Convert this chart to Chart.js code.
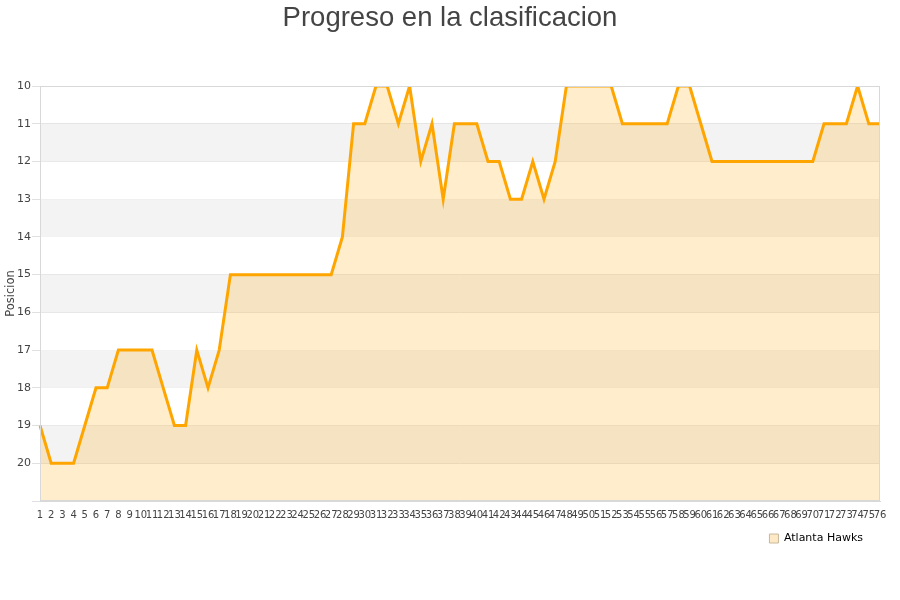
<!DOCTYPE html>
<html>
<head>
<meta charset="utf-8">
<script src="https://cdn.jsdelivr.net/npm/chart.js@4/dist/chart.umd.min.js"></script>
<style>
  body { margin: 0; background: #fff; }
</style>
</head>
<body>
<canvas id="myChart" width="900" height="600"></canvas>
<script>
// jornadas 1..76
const jornadas = [];
for (let j = 1; j <= 76; j++) jornadas.push(String(j));

const posiciones = [
  19, 20, 20, 20, 19, 18, 18, 17, 17, 17,
  17, 18, 19, 19, 17, 18, 17, 15, 15, 15,
  15, 15, 15, 15, 15, 15, 15, 14, 11, 11,
  10, 10, 11, 10, 12, 11, 13, 11, 11, 11,
  12, 12, 13, 13, 12, 13, 12, 10, 10, 10,
  10, 10, 11, 11, 11, 11, 11, 10, 10, 11,
  12, 12, 12, 12, 12, 12, 12, 12, 12, 12,
  11, 11, 11, 10, 11, 11
];

// gray bands [from, to]
const bandas = [[11, 12], [13, 14], [15, 16], [17, 18], [19, 20]];

const bandPlugin = {
  id: 'bands',
  afterLayout(chart) {
    // pull the legend in a bit from the right edge
    chart.legend.right -= 25;
  },
  beforeDatasetsDraw(chart) {
    const { ctx, chartArea, scales } = chart;
    ctx.save();
    ctx.fillStyle = '#f3f3f3';
    bandas.forEach(([a, b]) => {
      const y1 = scales.y.getPixelForValue(a);
      const y2 = scales.y.getPixelForValue(b);
      ctx.fillRect(chartArea.left, y1, chartArea.right - chartArea.left, y2 - y1);
    });
    ctx.restore();
  },
  afterDatasetsDraw(chart) {
    const { ctx, chartArea } = chart;
    ctx.save();
    ctx.strokeStyle = '#d8d8d8';
    ctx.lineWidth = 1;
    ctx.strokeRect(chartArea.left + 0.5, chartArea.top + 0.5,
      chartArea.right - chartArea.left - 1, chartArea.bottom - chartArea.top - 1);
    ctx.restore();
  }
};

new Chart(document.getElementById('myChart'), {
  type: 'line',
  data: {
    labels: jornadas,
    datasets: [{
      label: 'Atlanta Hawks',
      data: posiciones,
      borderColor: '#FFA500',
      backgroundColor: 'rgba(255,165,0,0.2)',
      borderWidth: 3,
      pointRadius: 0,
      tension: 0,
      fill: 'start'
    }]
  },
  plugins: [bandPlugin],
  options: {
    responsive: false,
    animation: false,
    layout: { padding: { left: 0, right: 0, top: 0, bottom: 46 } },
    plugins: {
      title: {
        display: true,
        text: 'Progreso en la clasificacion',
        color: '#444',
        font: { family: 'Liberation Sans', size: 27.5, weight: 'normal' },
        padding: { top: 2, bottom: 51 }
      },
      legend: {
        position: 'bottom',
        align: 'end',
        labels: {
          color: '#222',
          font: { family: 'DejaVu Sans', size: 11 },
          boxWidth: 9,
          boxHeight: 9,
          padding: 12,
          generateLabels: (chart) => [{
            text: 'Atlanta Hawks',
            fillStyle: '#fde9c5',
            strokeStyle: '#c8b89a',
            lineWidth: 1,
            datasetIndex: 0
          }]
        }
      },
      tooltip: { enabled: false }
    },
    scales: {
      x: {
        grid: { display: false },
        border: { color: '#d8d8d8' },
        ticks: {
          autoSkip: false,
          maxRotation: 0,
          minRotation: 0,
          color: '#444',
          font: { family: 'DejaVu Sans', size: 10 },
          padding: 0
        }
      },
      y: {
        reverse: true,
        min: 10,
        max: 21,
        afterFit: (s) => { s.width = 40; },
        grid: { color: '#e0e0e0' },
        border: { color: '#d8d8d8' },
        title: {
          display: true,
          text: 'Posicion',
          color: '#444',
          font: { family: 'DejaVu Sans', size: 11.5 },
          padding: { top: 4, bottom: 0 }
        },
        ticks: {
          stepSize: 1,
          padding: 1,
          color: '#444',
          font: { family: 'DejaVu Sans', size: 11 },
          callback: (v) => (v === 21 ? '' : v)
        }
      },
      // empty right gutter
      y2: {
        position: 'right',
        afterFit: (s) => { s.width = 20; },
        grid: { display: false },
        border: { display: false },
        ticks: { display: false }
      }
    }
  }
});
</script>
</body>
</html>
